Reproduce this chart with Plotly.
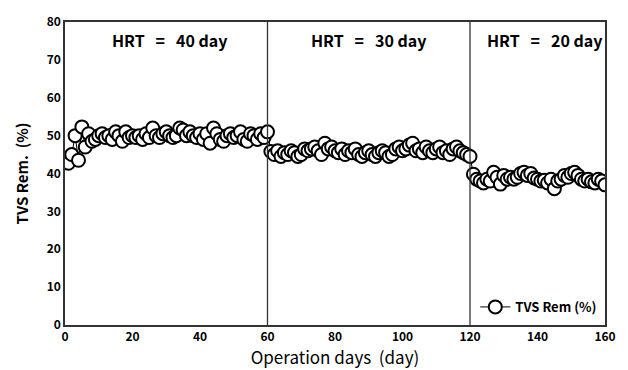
import plotly.graph_objects as go

days = list(range(1, 161))
seg1 = [42.7, 45.0, 50.0, 43.5, 52.3, 47.0, 50.5, 48.5, 49.0, 50.0,
        50.5, 49.5, 50.0, 49.0, 51.0, 50.0, 48.5, 51.0, 49.5, 50.0,
        49.5, 50.0, 49.0, 50.5, 49.5, 52.0, 50.0, 49.5, 50.5, 51.0,
        50.0, 49.5, 50.0, 52.0, 51.5, 50.0, 51.0, 50.0, 49.5, 50.5,
        49.0, 50.5, 48.0, 52.0, 50.5, 49.0, 48.5, 50.0, 50.5, 49.5,
        50.0, 51.0, 49.0, 48.5, 50.5, 50.0, 49.0, 50.5, 49.5, 51.0]
seg2 = [45.8, 45.0, 46.0, 44.5, 45.5, 45.0, 46.0, 45.5, 44.5, 45.0,
        46.5, 46.0, 46.5, 47.0, 46.0, 45.0, 48.0, 46.5, 47.0, 46.0,
        45.5, 46.5, 45.0, 46.0, 45.5, 46.5, 45.0, 44.5, 45.5, 46.0,
        45.0, 44.5, 45.5, 46.0, 45.5, 44.5, 45.0, 46.5, 47.0, 46.0,
        46.5, 47.5, 48.0, 46.0, 46.5, 45.5, 47.0, 46.0, 45.5, 46.5,
        47.0, 45.5, 46.0, 45.0, 46.5, 47.0, 46.0, 45.5, 45.0, 44.5]
seg3 = [39.8, 38.5, 38.0, 37.5, 38.5, 38.0, 40.3, 39.0, 37.2, 39.5,
        38.5, 39.0, 38.5, 39.0, 40.0, 40.3, 39.5, 40.0, 38.8, 38.5,
        38.0, 38.2, 37.5, 38.5, 36.0, 38.0, 38.5, 39.5, 39.0, 40.0,
        40.3, 39.5, 38.5, 38.0, 38.5, 37.8, 37.5, 38.5, 38.0, 37.0]
tvs_rem = seg1 + seg2 + seg3

hrt_bounds = [60, 120]
hrt_labels = ["HRT\u00a0\u00a0\u00a0=\u00a0\u00a0\u00a040 day",
              "HRT\u00a0\u00a0\u00a0=\u00a0\u00a0\u00a030 day",
              "HRT\u00a0\u00a0\u00a0=\u00a0\u00a0\u00a020 day"]
hrt_label_x = [31, 90, 142]

x_ticks = [0, 20, 40, 60, 80, 100, 120, 140, 160]
y_ticks = [0, 10, 20, 30, 40, 50, 60, 70, 80]

FONT = "Noto Sans CJK KR"

fig = go.Figure()
fig.add_trace(go.Scatter(
    x=days, y=tvs_rem, mode="lines+markers", name="<b>TVS Rem (%)</b>",
    line=dict(color="black", width=1),
    marker=dict(symbol="circle", size=13, color="white",
                line=dict(color="black", width=2)),
))

for b in hrt_bounds:
    fig.add_shape(type="line", x0=b, x1=b, xref="x", y0=0, y1=1, yref="paper",
                  line=dict(color="#333333", width=1.3))

for t, xx in zip(hrt_labels, hrt_label_x):
    fig.add_annotation(x=xx, y=75.3, xref="x", yref="y", yanchor="middle",
                       text="<b>" + t + "</b>",
                       showarrow=False, font=dict(family=FONT, size=16, color="black"))

fig.update_layout(
    width=628, height=370,
    margin=dict(l=65, r=21, t=17, b=45),
    paper_bgcolor="white", plot_bgcolor="white",
    font=dict(family=FONT, color="black"),
    showlegend=True,
    legend=dict(x=0.995, y=0.01, xanchor="right", yanchor="bottom",
                bgcolor="rgba(0,0,0,0)", font=dict(family=FONT, size=13, color="black"),
                itemwidth=30),
    xaxis=dict(range=[0, 160], tickvals=x_ticks, ticktext=["<b>%d</b>" % v for v in x_ticks],
               showgrid=False, zeroline=False, showline=True, linecolor="#333333",
               linewidth=1.5, mirror=True, ticks="",
               tickfont=dict(family=FONT, size=12, color="black"),
               title=dict(text="Operation days\u00a0\u00a0(day)", standoff=2,
                          font=dict(family=FONT, size=17, color="black"))),
    yaxis=dict(range=[0, 80], tickvals=y_ticks, ticktext=["<b>%d</b>" % v for v in y_ticks],
               showgrid=False, zeroline=False, showline=True, linecolor="#333333",
               linewidth=1.5, mirror=True, ticks="",
               tickfont=dict(family=FONT, size=12, color="black"),
               title=dict(text="<b>TVS Rem.\u00a0\u00a0(%)</b>", standoff=14,
                          font=dict(family=FONT, size=15, color="black"))),
)

fig.write_html("out.html")
